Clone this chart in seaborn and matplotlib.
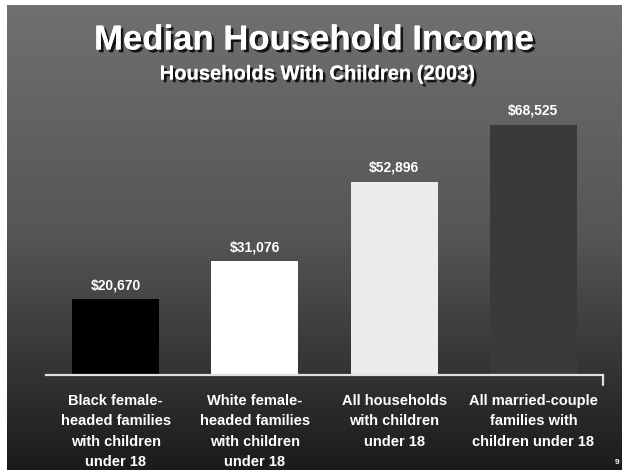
import numpy as np
import pandas as pd
import seaborn as sns
import matplotlib.pyplot as plt
import matplotlib.patheffects as pe

# === Data ===
categories = [
    "Black female-\nheaded families\nwith children\nunder 18",
    "White female-\nheaded families\nwith children\nunder 18",
    "All households\nwith children\nunder 18",
    "All married-couple\nfamilies with\nchildren under 18",
]
incomes = [20670, 31076, 52896, 68525]
value_labels = ["$20,670", "$31,076", "$52,896", "$68,525"]
bar_colors = ["#000000", "#ffffff", "#ebebeb", "#3a3a3a"]

df = pd.DataFrame({"Category": categories, "Income": incomes})

sns.set_theme(style="white")
plt.rcParams['font.family'] = ['Liberation Sans', 'DejaVu Sans']

fig = plt.figure(figsize=(6.22, 4.70), dpi=100)
fig.patch.set_facecolor("white")

# --- gradient slide background ---
bg = fig.add_axes([7 / 622, 0, 1 - 7 / 622, 1 - 5 / 470])
grad = np.linspace(0, 1, 256).reshape(-1, 1)
bg.imshow(grad, aspect="auto", cmap=sns.blend_palette(["#707070", "#555555", "#1b1b1b"], as_cmap=True),
          extent=[0, 1, 0, 1], origin="upper")
bg.set_axis_off()

# --- main bar chart ---
ax = fig.add_axes([46 / 622, 1 - 375 / 470, (603 - 46) / 622, (375 - 101) / 470])
ax.set_facecolor("none")
sns.barplot(data=df, x="Category", y="Income", hue="Category", palette=bar_colors,
            legend=False, width=0.625, saturation=1, linewidth=0, ax=ax)
ax.set_xlim(-0.5, 3.5)
ax.set_ylim(0, 75000)

for i, (v, lab) in enumerate(zip(incomes, value_labels)):
    ax.text(i, v + 2000, lab, ha="center", va="bottom", color="white",
            fontsize=10, fontweight="bold")

for s in ["top", "left", "right"]:
    ax.spines[s].set_visible(False)
ax.spines["bottom"].set_color("#e0e0e0")
ax.spines["bottom"].set_linewidth(1.6)
ax.plot([3.5, 3.5], [0, -2800], color="#e0e0e0", lw=1.6, clip_on=False)
ax.set_yticks([])
ax.set_xlabel("")
ax.set_ylabel("")
ax.tick_params(axis="x", length=0, pad=14)
for t in ax.get_xticklabels():
    t.set_color("white")
    t.set_fontweight("bold")
    t.set_fontsize(10.5)
    t.set_linespacing(1.55)
    t.set_va("top")

# --- titles ---
shadow = [pe.withSimplePatchShadow(offset=(2, -2), shadow_rgbFace="black", alpha=0.8), pe.Normal()]
fig.text(0.505, 1 - 40 / 470, "Median Household Income", ha="center", va="center",
         color="white", fontsize=25, fontweight="bold", path_effects=shadow)
fig.text(0.51, 1 - 74 / 470, "Households With Children (2003)", ha="center", va="center",
         color="white", fontsize=14.5, fontweight="bold", path_effects=shadow)
fig.text(617 / 622, 1 - 462 / 470, "9", ha="center", va="center", color="white",
         fontsize=6, fontweight="bold")

fig.savefig("out.png", dpi=100)
